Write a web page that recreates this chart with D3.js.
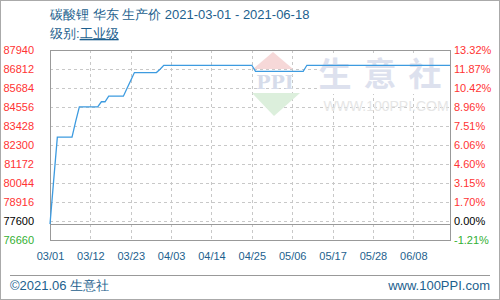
<!DOCTYPE html>
<html>
<head>
<meta charset="utf-8">
<script src="https://cdn.jsdelivr.net/npm/d3@7"></script>
<style>
  body { margin: 0; background: #fff; }
  svg { display: block; font-family: "Liberation Sans", Arial, sans-serif; }
</style>
</head>
<body>
<svg id="chart" width="500" height="300"></svg>
<script>
// price series (yuan/ton), dates where the price changed
var dates = ["2021-03-01","2021-03-02","2021-03-03","2021-03-07","2021-03-08","2021-03-09",
             "2021-03-14","2021-03-15","2021-03-16","2021-03-17","2021-03-21","2021-03-22",
             "2021-03-23","2021-03-24","2021-03-30","2021-03-31","2021-04-01","2021-04-25",
             "2021-04-26","2021-05-09","2021-05-10","2021-06-18"];
var prices = [77600, 80200, 82767, 82767, 83700, 84567,
              84567, 84867, 84867, 85200, 85200, 85667,
              86133, 86600, 86600, 86800, 87033, 87033,
              86667, 86667, 87033, 87033];

// axis labels
var leftLabels = ["87940","86812","85684","84556","83428","82300","81172","80044","78916","77600","76660"];
var rightLabels = ["13.32%","11.87%","10.42%","8.96%","7.51%","6.06%","4.60%","3.15%","1.70%","0.00%","-1.21%"];
var dateTicks = ["2021-03-01","2021-03-12","2021-03-23","2021-04-03","2021-04-14","2021-04-25",
                 "2021-05-06","2021-05-17","2021-05-28","2021-06-08"];
var basePrice = 77600;

var svg = d3.select("#chart");
var parse = d3.timeParse("%Y-%m-%d");
var fmt = d3.timeFormat("%m/%d");

// plot box ("top" is taken by window.top, so use other names)
var pLeft = 50, pRight = 450, pTop = 50, pBottom = 240;

var x = d3.scaleTime()
    .domain([parse("2021-03-01"), parse("2021-06-18")])
    .range([pLeft, pRight]);

var y = d3.scaleLinear()
    .domain([76660, 87940])
    .range([pBottom, pTop]);

var blue = "#1d5f8e";
var red = "#ff3333";

// outer frame
svg.append("rect")
    .attr("x", 0.5).attr("y", 0.5)
    .attr("width", 499).attr("height", 299)
    .attr("fill", "#fff").attr("stroke", "#aaa");

// titles
svg.append("text")
    .attr("x", 50).attr("y", 19)
    .attr("fill", blue).style("font-size", "13px")
    .text("碳酸锂 华东 生产价 2021-03-01 - 2021-06-18");
var sub = svg.append("text")
    .attr("x", 50).attr("y", 38)
    .attr("fill", blue).style("font-size", "13px");
sub.append("tspan").text("级别:");
sub.append("tspan").style("text-decoration", "underline").text("工业级");

// grid values: equal steps from the top
var step = (87940 - 76660) / 10;
var gridVals = d3.range(1, 10).map(function(k) { return 87940 - k * step; });

svg.append("g")
  .selectAll("line")
  .data(gridVals)
  .enter().append("line")
    .attr("x1", pLeft).attr("x2", pRight)
    .attr("y1", function(d) { return Math.round(y(d)) + 0.5; })
    .attr("y2", function(d) { return Math.round(y(d)) + 0.5; })
    .attr("stroke", "#c8c8c8")
    .attr("stroke-dasharray", "3,3");

svg.append("g")
  .selectAll("line")
  .data(dateTicks.slice(1))
  .enter().append("line")
    .attr("x1", function(d) { return Math.round(x(parse(d))) + 0.5; })
    .attr("x2", function(d) { return Math.round(x(parse(d))) + 0.5; })
    .attr("y1", pTop).attr("y2", pBottom)
    .attr("stroke", "#c8c8c8")
    .attr("stroke-dasharray", "3,3");

// watermark
var wm = svg.append("g");
wm.append("rect")
    .attr("x", 318).attr("y", 54).attr("width", 131).attr("height", 40)
    .attr("fill", "#fff");
wm.append("path")
    .attr("d", "M273,52 L293,69 L253,69 Z")
    .attr("fill", "#f6d8d8");
wm.append("text")
    .attr("x", 275).attr("y", 89)
    .attr("text-anchor", "middle")
    .attr("fill", "#d6dcea")
    .style("font-size", "19px").style("font-weight", "bold")
    .style("font-family", "'DejaVu Serif', serif")
    .text("PPI");
wm.append("path")
    .attr("d", "M252,93 L300,93 L274,116 Z")
    .attr("fill", "#dcefdc");
wm.append("text")
    .attr("x", 386).attr("y", 86)
    .attr("text-anchor", "middle")
    .attr("fill", "#dde1ee")
    .style("font-size", "33px").style("font-weight", "bold")
    .style("font-family", "'Noto Sans CJK SC', sans-serif")
    .style("letter-spacing", "12px")
    .text("生意社");
wm.append("text")
    .attr("x", 386).attr("y", 111)
    .attr("text-anchor", "middle")
    .attr("fill", "#e6e6e6")
    .style("font-size", "14px")
    .text("WWW.100PPI.COM");

// base price line
svg.append("line")
    .attr("x1", pLeft).attr("x2", pRight)
    .attr("y1", Math.round(y(basePrice)) + 0.5)
    .attr("y2", Math.round(y(basePrice)) + 0.5)
    .attr("stroke", "#999");

// plot frame
svg.append("rect")
    .attr("x", pLeft + 0.5).attr("y", pTop + 0.5)
    .attr("width", pRight - pLeft).attr("height", pBottom - pTop)
    .attr("fill", "none").attr("stroke", "#999");

// price line
var data = dates.map(function(d, i) { return {date: parse(d), price: prices[i]}; });
var line = d3.line()
    .x(function(d) { return x(d.date); })
    .y(function(d) { return y(d.price); });

svg.append("path")
    .datum(data)
    .attr("d", line)
    .attr("fill", "none")
    .attr("stroke", "#3d9be0")
    .attr("stroke-width", 1.3);

// y labels, placed on the equal grid steps
function labelColor(i) {
  if (i == 9) return "#000";
  if (i == 10) return "#33b033";
  return red;
}
svg.append("g")
  .selectAll("text")
  .data(leftLabels)
  .enter().append("text")
    .attr("x", 34)
    .attr("y", function(d, i) { return y(87940 - i * step) + 4; })
    .attr("text-anchor", "end")
    .attr("fill", function(d, i) { return labelColor(i); })
    .style("font-size", "11px")
    .text(function(d) { return d; });

svg.append("g")
  .selectAll("text")
  .data(rightLabels)
  .enter().append("text")
    .attr("x", 454)
    .attr("y", function(d, i) { return y(87940 - i * step) + 4; })
    .attr("fill", function(d, i) { return labelColor(i); })
    .style("font-size", "11px")
    .text(function(d) { return d; });

// x axis labels
var xAxis = d3.axisBottom(x)
    .tickValues(dateTicks.map(parse))
    .tickFormat(fmt)
    .tickSize(0)
    .tickPadding(12);

var gx = svg.append("g")
    .attr("transform", "translate(0," + pBottom + ")")
    .call(xAxis);
gx.select(".domain").remove();
gx.selectAll("text")
    .attr("fill", blue)
    .style("font-size", "11px")
    .style("font-family", "'Liberation Sans', Arial, sans-serif");

// footer
svg.append("line")
    .attr("x1", 10).attr("x2", 490)
    .attr("y1", 275.5).attr("y2", 275.5)
    .attr("stroke", "#999");
svg.append("text")
    .attr("x", 10).attr("y", 290)
    .attr("fill", blue).style("font-size", "13px")
    .text("©2021.06 生意社");
svg.append("text")
    .attr("x", 490).attr("y", 290)
    .attr("text-anchor", "end")
    .attr("fill", blue).style("font-size", "13px")
    .text("www.100PPI.com");
</script>
</body>
</html>
